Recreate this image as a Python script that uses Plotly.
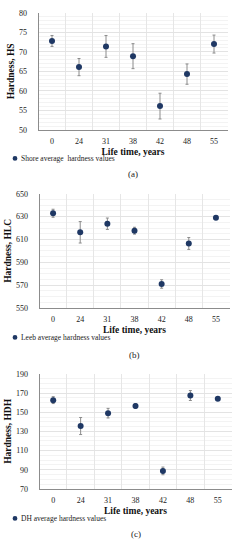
import plotly.graph_objects as go

years = ["0", "24", "31", "38", "42", "48", "55"]

shore_vals = [72.8, 66.1, 71.4, 68.9, 56.1, 64.3, 72.0]
shore_err = [1.4, 2.2, 2.8, 3.2, 3.3, 2.6, 2.3]

leeb_vals = [633.0, 616.3, 623.8, 617.7, 571.0, 606.5, 629.0]
leeb_err = [3.5, 9.4, 5.0, 3.0, 3.7, 5.2, 1.5]

dh_vals = [162.6, 135.6, 149.0, 156.5, 88.8, 167.4, 164.0]
dh_err = [3.6, 8.9, 5.0, 2.4, 4.0, 5.2, 1.5]

W, H = 240, 550
SERIF = "Liberation Serif, Times New Roman, serif"
MARK = "#1f3864"
ERRC = "#8c8c8c"

panels = [
    dict(vals=shore_vals, err=shore_err, name="Shore average  hardness values",
         ytitle="Hardness, HS", yr=[50, 80], dt=5, minor=1,
         x=(38.5, 227.5), y=(9, 128), leg_y=157, lab="(a)", lab_y=173),
    dict(vals=leeb_vals, err=leeb_err, name="Leeb average hardness values",
         ytitle="Hardness, HLC", yr=[550, 650], dt=20, minor=5,
         x=(39.5, 229.5), y=(193, 309), leg_y=339, lab="(b)", lab_y=357),
    dict(vals=dh_vals, err=dh_err, name="DH average hardness values",
         ytitle="Hardness, HDH", yr=[70, 190], dt=20, minor=5,
         x=(39.5, 231.5), y=(376, 493), leg_y=523, lab="(c)", lab_y=539),
]

fig = go.Figure()
annotations = []
shapes = []
layout = {}
for i, p in enumerate(panels):
    n = "" if i == 0 else str(i + 1)
    xa, ya = "x" + n, "y" + n
    fig.add_trace(go.Scatter(
        x=years, y=p["vals"], mode="markers", name=p["name"],
        xaxis=xa, yaxis=ya, showlegend=False,
        marker=dict(size=6, color=MARK),
        error_y=dict(type="data", array=p["err"], color=ERRC, thickness=1, width=1.5),
    ))
    dx = [p["x"][0] / W, p["x"][1] / W]
    dy = [1 - p["y"][1] / H, 1 - p["y"][0] / H]
    layout["xaxis" + n] = dict(
        domain=dx, anchor=ya, type="category", range=[-0.5, 6.5],
        tickson="boundaries", showgrid=True, gridcolor="#e6e6e6", gridwidth=1,
        ticks="", showline=True, linecolor="#8c8c8c", linewidth=1,
        ticklabelstandoff=3,
        tickfont=dict(family=SERIF, size=8, color="#222"),
        title=dict(text="<b>Life time, years</b>", font=dict(family=SERIF, size=9.5, color="#111"),
                   standoff=3),
        zeroline=False, fixedrange=True,
    )
    layout["yaxis" + n] = dict(
        domain=dy, anchor=xa, range=p["yr"], dtick=p["dt"], tick0=p["yr"][0],
        showgrid=True, gridcolor="#e3e3e3", gridwidth=1,
        minor=dict(dtick=p["minor"], showgrid=True, gridcolor="#f3f3f3", gridwidth=1),
        ticks="", showline=True, linecolor="#8c8c8c", linewidth=1,
        ticklabelstandoff=9,
        tickfont=dict(family=SERIF, size=8, color="#222"),
        title=dict(text="<b>" + p["ytitle"] + "</b>", font=dict(family=SERIF, size=9.5, color="#111"),
                   standoff=2),
        zeroline=False, fixedrange=True,
    )
    ly = 1 - p["leg_y"] / H
    r = 2.4
    shapes.append(dict(
        type="circle", xref="paper", yref="paper",
        x0=(15 - r) / W, x1=(15 + r) / W, y0=ly - r / H, y1=ly + r / H,
        fillcolor=MARK, line=dict(width=0),
    ))
    annotations.append(dict(
        text=p["name"].replace("  ", "&nbsp; "), x=18.5 / W, y=ly,
        xref="paper", yref="paper", showarrow=False, xanchor="left", yanchor="middle",
        font=dict(family=SERIF, size=7.5, color="#222"),
    ))
    annotations.append(dict(
        text=p["lab"], x=0.5 * (p["x"][0] + p["x"][1]) / W, y=1 - p["lab_y"] / H,
        xref="paper", yref="paper", showarrow=False, xanchor="center", yanchor="middle",
        font=dict(family=SERIF, size=9, color="#222"),
    ))

fig.update_layout(
    width=W, height=H, margin=dict(l=0, r=0, t=0, b=0),
    paper_bgcolor="white", plot_bgcolor="white",
    showlegend=False, annotations=annotations, shapes=shapes, **layout,
)

fig.write_html("out.html", config={"displayModeBar": False},
               post_script="document.body.style.margin='0';")
